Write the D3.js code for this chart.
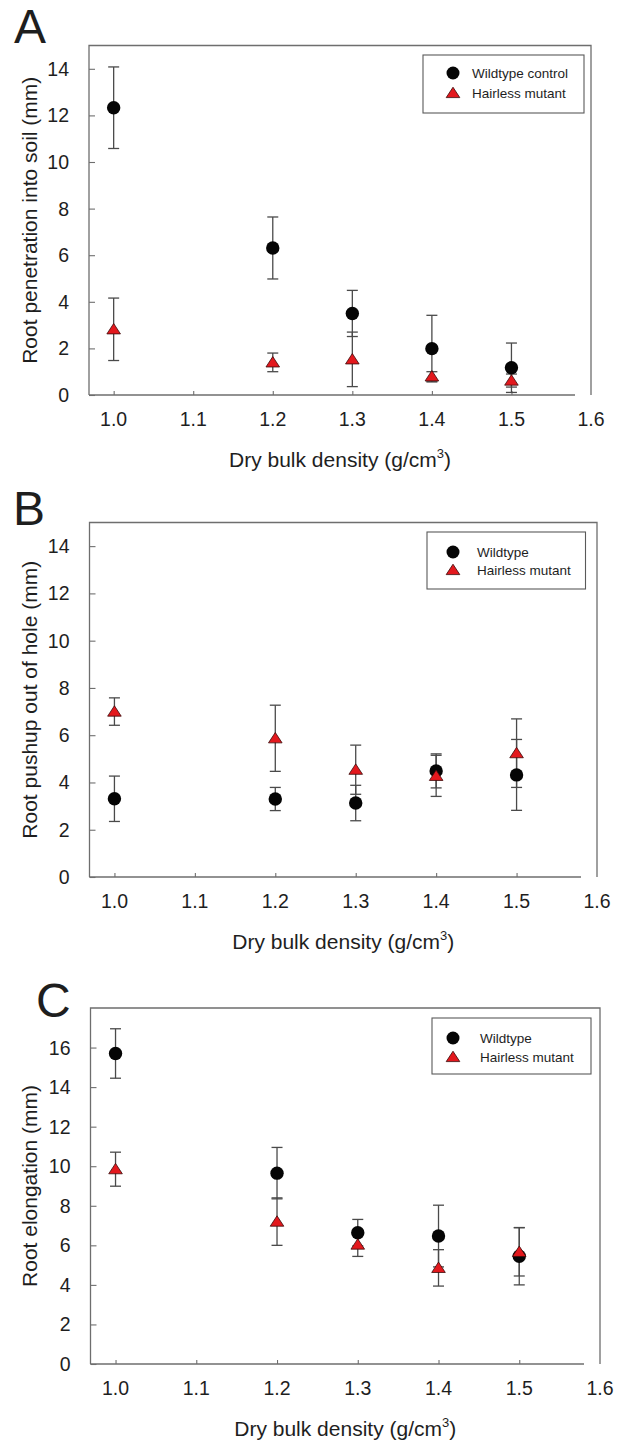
<!DOCTYPE html>
<html><head><meta charset="utf-8">
<script src="https://cdn.jsdelivr.net/npm/d3@7"></script>
<style>body{margin:0;background:#fff}svg{display:block}text{font-family:"Liberation Sans",Arial,sans-serif;fill:#1e1e1e}</style>
</head><body><svg id="c" width="631" height="1443"></svg>
<script>
// ---------- data ----------
const densities = [1.0, 1.2, 1.3, 1.4, 1.5];
const xTicks = [1.0, 1.1, 1.2, 1.3, 1.4, 1.5, 1.6];
const xTickLabels = ["1.0", "1.1", "1.2", "1.3", "1.4", "1.5", "1.6"];
const yTicksAB = [0, 2, 4, 6, 8, 10, 12, 14];
const yTicksC = [0, 2, 4, 6, 8, 10, 12, 14, 16];

// Panel A: root penetration into soil (mm)
const penWildMean = [12.33, 6.31, 3.50, 1.99, 1.17];
const penWildErr  = [1.75, 1.33, 0.99, 1.43, 1.06];
const penMutMean  = [2.82, 1.40, 1.53, 0.80, 0.62];
const penMutErr   = [1.34, 0.40, 1.17, 0.20, 0.28];

// Panel B: root pushup out of hole (mm)
const pushWildMean = [3.31, 3.30, 3.13, 4.49, 4.32];
const pushWildErr  = [0.96, 0.49, 0.75, 0.72, 1.50];
const pushMutMean  = [7.00, 5.87, 4.54, 4.28, 5.24];
const pushMutErr   = [0.58, 1.40, 1.04, 0.87, 1.45];

// Panel C: root elongation (mm)
const elongWildMean = [15.70, 9.65, 6.64, 6.47, 5.45];
const elongWildErr  = [1.25, 1.30, 0.67, 1.56, 1.45];
const elongMutMean  = [9.85, 7.20, 6.04, 4.86, 5.67];
const elongMutErr   = [0.86, 1.20, 0.60, 0.92, 1.22];

const panelLetters = ["A", "B", "C"];
const yTitles = ["Root penetration into soil (mm)", "Root pushup out of hole (mm)", "Root elongation (mm)"];
const wildLabels = ["Wildtype control", "Wildtype", "Wildtype"];
const mutLabel = "Hairless mutant";
const xTitleMain = "Dry bulk density (g/cm";
const xTitleSup = "3";

// ---------- layout ----------
const layouts = [
  {left: 89, right: 591, top: 45.5, bottom: 395, yMax: 15, yTicks: yTicksAB, lx: 14, ly: 43,
   box: [423, 55, 584, 113], rows: [73, 93], symX: 453, txtX: 472},
  {left: 89.5, right: 597, top: 522.5, bottom: 877, yMax: 15, yTicks: yTicksAB, lx: 13, ly: 525,
   box: [427, 532, 585.5, 589], rows: [552, 570], symX: 453, txtX: 477},
  {left: 90.5, right: 600, top: 1008, bottom: 1364, yMax: 18, yTicks: yTicksC, lx: 36, ly: 1017,
   box: [432, 1018, 591, 1074], rows: [1038, 1057], symX: 453, txtX: 480}
];
const seriesByPanel = [
  [penWildMean, penWildErr, penMutMean, penMutErr],
  [pushWildMean, pushWildErr, pushMutMean, pushMutErr],
  [elongWildMean, elongWildErr, elongMutMean, elongMutErr]
];

const svg = d3.select("#c");
svg.append("rect").attr("width", 631).attr("height", 1443).attr("fill", "#fff");

const frameColor = "#6e6e6e";
const barColor = "#4a4a4a";
const red = "#e3181d";
const triPath = "M0,-5.8L6.8,4.6L-6.8,4.6Z";

layouts.forEach((L, pi) => {
  const g = svg.append("g");
  const x = d3.scaleLinear().domain([0.969, 1.6]).range([L.left, L.right]);
  const y = d3.scaleLinear().domain([0, L.yMax]).range([L.bottom, L.top]);
  const [wm, we, mm, me] = seriesByPanel[pi];

  // panel letter
  g.append("text").attr("x", L.lx).attr("y", L.ly).attr("font-size", 48).text(panelLetters[pi]);

  // frame
  g.append("path").attr("fill", "none").attr("stroke", frameColor).attr("stroke-width", 1.3)
    .attr("d", `M${L.left},${L.bottom}V${L.top}H${L.right}V${L.bottom}`);
  g.append("line").attr("x1", L.left).attr("x2", L.right - 16).attr("y1", L.bottom).attr("y2", L.bottom)
    .attr("stroke", frameColor).attr("stroke-width", 1.3);

  // y axis (ticks inward)
  const yAx = g.append("g").attr("transform", `translate(${L.left},0)`)
    .call(d3.axisRight(y).tickValues(L.yTicks).tickSize(6).tickFormat(""));
  yAx.select(".domain").remove();
  yAx.selectAll(".tick line").attr("stroke", frameColor).attr("stroke-width", 1.1);
  L.yTicks.forEach(t => {
    g.append("text").attr("x", L.left - 20).attr("y", y(t)).attr("dy", "0.36em")
      .attr("text-anchor", "end").attr("font-size", 19.5).text(t);
  });

  // x axis (ticks inward)
  const xAx = g.append("g").attr("transform", `translate(0,${L.bottom})`)
    .call(d3.axisTop(x).tickValues(xTicks.slice(0, 6)).tickSize(4).tickFormat(""));
  xAx.select(".domain").remove();
  xAx.selectAll(".tick line").attr("stroke", frameColor).attr("stroke-width", 1.1);
  xTicks.forEach((t, i) => {
    g.append("text").attr("x", x(t)).attr("y", L.bottom + 31).attr("text-anchor", "middle")
      .attr("font-size", 19.5).text(xTickLabels[i]);
  });

  // axis titles
  const xt = g.append("text").attr("x", (L.left + L.right) / 2).attr("y", L.bottom + 72)
    .attr("text-anchor", "middle").attr("font-size", 21);
  xt.append("tspan").text(xTitleMain);
  xt.append("tspan").attr("font-size", 13).attr("dy", -9).text(xTitleSup);
  xt.append("tspan").attr("dy", 9).text(")");

  g.append("text").attr("transform", `translate(29,${(L.top + L.bottom) / 2}) rotate(-90)`)
    .attr("text-anchor", "middle").attr("dy", "0.36em").attr("font-size", 21).text(yTitles[pi]);

  // error bars
  const drawErr = (means, errs) => {
    densities.forEach((d, i) => {
      const cx = x(d), y1 = y(Math.max(0, means[i] - errs[i])), y2 = y(means[i] + errs[i]);
      g.append("line").attr("x1", cx).attr("x2", cx).attr("y1", y1).attr("y2", y2)
        .attr("stroke", barColor).attr("stroke-width", 1.3);
      [means[i] - errs[i], means[i] + errs[i]].forEach(v => {
        if (v < 0) return;
        g.append("line").attr("x1", cx - 5.5).attr("x2", cx + 5.5).attr("y1", y(v)).attr("y2", y(v))
          .attr("stroke", barColor).attr("stroke-width", 1.3);
      });
    });
  };
  drawErr(wm, we);
  drawErr(mm, me);

  // markers
  g.selectAll(null).data(densities).enter().append("circle")
    .attr("cx", d => x(d)).attr("cy", (d, i) => y(wm[i])).attr("r", 6.7).attr("fill", "#050505");
  g.selectAll(null).data(densities).enter().append("path")
    .attr("d", triPath).attr("transform", (d, i) => `translate(${x(d)},${y(mm[i])})`)
    .attr("fill", red).attr("stroke", "#3a0a0a").attr("stroke-width", 0.8);

  // legend
  const [bx1, by1, bx2, by2] = L.box;
  g.append("rect").attr("x", bx1).attr("y", by1).attr("width", bx2 - bx1).attr("height", by2 - by1)
    .attr("fill", "#fff").attr("stroke", "#5a5a5a").attr("stroke-width", 1.1);
  g.append("circle").attr("cx", L.symX).attr("cy", L.rows[0]).attr("r", 6.5).attr("fill", "#050505");
  g.append("path").attr("d", triPath).attr("transform", `translate(${L.symX},${L.rows[1]})`)
    .attr("fill", red).attr("stroke", "#3a0a0a").attr("stroke-width", 0.8);
  g.append("text").attr("x", L.txtX).attr("y", L.rows[0]).attr("dy", "0.36em").attr("font-size", 13.5).text(wildLabels[pi]);
  g.append("text").attr("x", L.txtX).attr("y", L.rows[1]).attr("dy", "0.36em").attr("font-size", 13.5).text(mutLabel);
});
</script></body></html>
